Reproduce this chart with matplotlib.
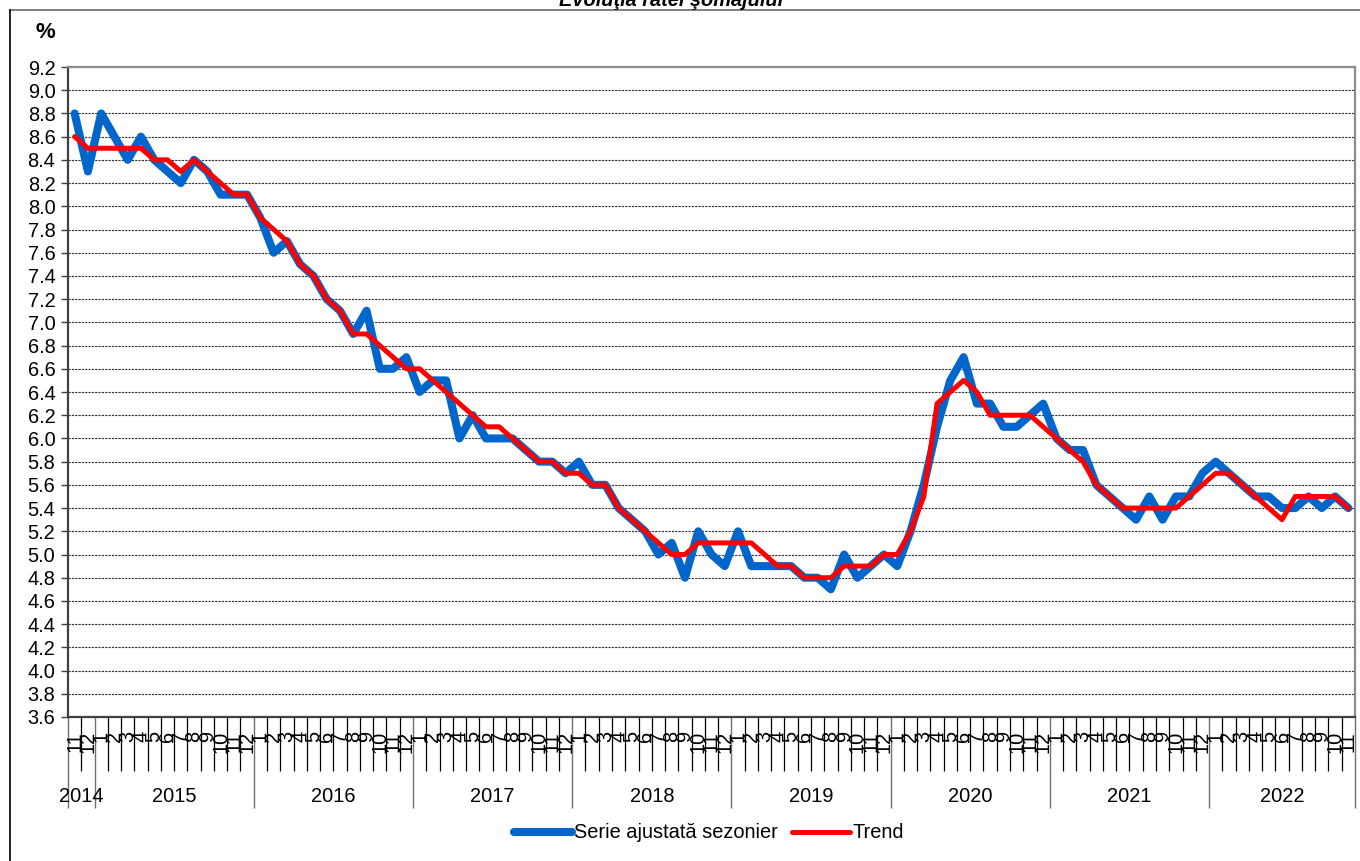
import numpy as np
import matplotlib
matplotlib.use("Agg")
import matplotlib.pyplot as plt
from matplotlib.lines import Line2D

plt.rcParams["font.family"] = ["Liberation Sans", "DejaVu Sans"]

YEARS = ["2014", "2015", "2016", "2017", "2018", "2019", "2020", "2021", "2022"]
MONTHS_PER_YEAR = [2, 12, 12, 12, 12, 12, 12, 12, 11]
MONTH_LABELS = (
	["11", "12"]
	+ [str(m) for m in range(1, 13)] * 7
	+ [str(m) for m in range(1, 12)]
)

SEASONAL = [
	8.8, 8.3,
	8.8, 8.6, 8.4, 8.6, 8.4, 8.3, 8.2, 8.4, 8.3, 8.1, 8.1, 8.1,
	7.9, 7.6, 7.7, 7.5, 7.4, 7.2, 7.1, 6.9, 7.1, 6.6, 6.6, 6.7,
	6.4, 6.5, 6.5, 6.0, 6.2, 6.0, 6.0, 6.0, 5.9, 5.8, 5.8, 5.7,
	5.8, 5.6, 5.6, 5.4, 5.3, 5.2, 5.0, 5.1, 4.8, 5.2, 5.0, 4.9,
	5.2, 4.9, 4.9, 4.9, 4.9, 4.8, 4.8, 4.7, 5.0, 4.8, 4.9, 5.0,
	4.9, 5.2, 5.6, 6.1, 6.5, 6.7, 6.3, 6.3, 6.1, 6.1, 6.2, 6.3,
	6.0, 5.9, 5.9, 5.6, 5.5, 5.4, 5.3, 5.5, 5.3, 5.5, 5.5, 5.7,
	5.8, 5.7, 5.6, 5.5, 5.5, 5.4, 5.4, 5.5, 5.4, 5.5, 5.4,
]

TREND = [
	8.6, 8.5,
	8.5, 8.5, 8.5, 8.5, 8.4, 8.4, 8.3, 8.4, 8.3, 8.2, 8.1, 8.1,
	7.9, 7.8, 7.7, 7.5, 7.4, 7.2, 7.1, 6.9, 6.9, 6.8, 6.7, 6.6,
	6.6, 6.5, 6.4, 6.3, 6.2, 6.1, 6.1, 6.0, 5.9, 5.8, 5.8, 5.7,
	5.7, 5.6, 5.6, 5.4, 5.3, 5.2, 5.1, 5.0, 5.0, 5.1, 5.1, 5.1,
	5.1, 5.1, 5.0, 4.9, 4.9, 4.8, 4.8, 4.8, 4.9, 4.9, 4.9, 5.0,
	5.0, 5.2, 5.5, 6.3, 6.4, 6.5, 6.4, 6.2, 6.2, 6.2, 6.2, 6.1,
	6.0, 5.9, 5.8, 5.6, 5.5, 5.4, 5.4, 5.4, 5.4, 5.4, 5.5, 5.6,
	5.7, 5.7, 5.6, 5.5, 5.4, 5.3, 5.5, 5.5, 5.5, 5.5, 5.4,
]

BLUE = "#0066CC"
RED = "#FF0000"
FS = 14.4

W, H = 1360, 861
fig = plt.figure(figsize=(W / 100, H / 100), dpi=100)
ax = fig.add_axes([68 / W, 1 - 717 / H, (1355 - 68) / W, (717 - 67) / H])

n = len(SEASONAL)
x = np.arange(n) + 0.5

ax.plot(x, SEASONAL, color=BLUE, lw=5.8, solid_joinstyle="round", solid_capstyle="round", zorder=3)
ax.plot(x, TREND, color=RED, lw=3.6, solid_joinstyle="round", solid_capstyle="round", zorder=4)

ax.set_xlim(0, n)
ax.set_ylim(3.6, 9.2)
yt = np.round(np.arange(3.6, 9.21, 0.2), 1)
ax.set_yticks(yt)
ax.set_yticklabels([f"{v:.1f}" for v in yt], fontsize=FS)
ax.tick_params(axis="y", direction="out", length=5, width=1, color="#404040", pad=4)
for v in yt[1:-1]:
	ax.axhline(v, color="#303030", lw=0.8, ls=(0, (2, 1)), zorder=1)

# category axis: month boundaries (minor) and year boundaries (major)
bounds = np.concatenate([[0], np.cumsum(MONTHS_PER_YEAR)])
ax.set_xticks(bounds)
ax.set_xticks(np.arange(n + 1), minor=True)
ax.set_xticklabels([])
ax.tick_params(axis="x", which="major", direction="out", length=65.5, width=1, color="#707070")
ax.tick_params(axis="x", which="minor", direction="out", length=39, width=0.9, color="black")

tr = ax.get_xaxis_transform()
for xi, lab in zip(x, MONTH_LABELS):
	ax.text(xi, -14 / 650, lab, transform=tr, rotation=90, ha="center", va="top",
			fontsize=FS, clip_on=False)
for i, yr in enumerate(YEARS):
	ax.text((bounds[i] + bounds[i + 1]) / 2, -79 / 650, yr, transform=tr,
			ha="center", va="center", fontsize=FS, clip_on=False)

for side in ["left", "bottom"]:
	ax.spines[side].set_color("#404040")
	ax.spines[side].set_linewidth(1.6)
for side in ["top", "right"]:
	ax.spines[side].set_color("#8c8c8c")
	ax.spines[side].set_linewidth(1.6)

fig.text(45 / W, 1 - 33 / H, "%", fontsize=16, fontweight="bold", ha="center", va="center")
fig.text(671 / W, 1 - 6 / H, "Evoluţia ratei şomajului", fontsize=FS, fontweight="bold",
		 fontstyle="italic", ha="center", va="baseline")

# outer chart frame (top and left edges are the only ones inside the picture)
fig.add_artist(Line2D([10 / W, 1], [1 - 10 / H, 1 - 10 / H], transform=fig.transFigure,
					  color="#808080", lw=1.4))
fig.add_artist(Line2D([10 / W, 10 / W], [1 - 10 / H, 0], transform=fig.transFigure,
					  color="black", lw=1.2))

handles = [
	Line2D([], [], color=BLUE, lw=5.8, solid_capstyle="round"),
	Line2D([], [], color=RED, lw=3.6, solid_capstyle="round"),
]
fig.legend(handles, ["Serie ajustată sezonier", "Trend"], loc="center",
		   bbox_to_anchor=(709 / W, 1 - 833 / H), ncol=2, frameon=False, fontsize=FS,
		   handlelength=2.9, handletextpad=0.1, columnspacing=0.7)

fig.savefig("out.png", dpi=100)
